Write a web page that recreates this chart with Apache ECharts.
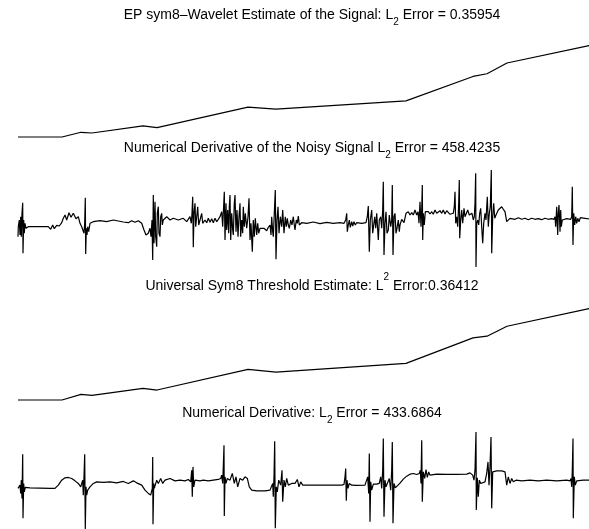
<!DOCTYPE html>
<html>
<head>
<meta charset="utf-8">
<script src="https://cdn.jsdelivr.net/npm/echarts@6/dist/echarts.min.js"></script>
<style>
  html, body { margin: 0; padding: 0; background: #fff; overflow: hidden; }
  #chart { width: 624px; height: 529px; }
</style>
</head>
<body>
<div id="chart"></div>
<script>
// sample positions (0..588) of the kinks in the two wavelet estimates
const estX = [0, 44, 63, 74, 125, 139, 230, 258, 388, 455, 469, 489, 571, 588]
const epEstimate = [0, 0, 0.47, 0.4, 1.1, 0.93, 2.97, 2.77, 3.6, 6.03, 6.3, 7.37, 9.1, 9.46]
const uniEstimate = [0, 0, 0.57, 0.47, 1.17, 1.0, 3.07, 2.8, 3.67, 6.23, 6.4, 7.4, 9.17, 9.53]

// numerical derivative of the noisy signal [position, value]
const noisyDeriv = [
  [0,-10.7],[0.3,-0.7],[1.3,6],[2,-9],[2.7,9.3],[3.3,-10.7],[4,12.7],[4.7,23.3],[5,-27.3],[5.7,6],[6.3,-7.3],[7,2.7],[8,-2.3],
  [10.3,-0.7],[30.3,-0.7],[32.7,-3.3],[34.7,1],[36.3,-2.7],[38.7,0.7],[41.3,0],[43.7,3.3],
  [45.3,7.7],[47,11],[48.7,6],[51,13.3],[53,8.7],[55.3,12.7],[58,7.3],[60.3,9.3],[62,2.7],[63.7,-0.7],
  [64.7,-2.3],[65.3,1],[66,-7.3],[66.7,2.7],[67.3,28.3],[67.7,-28],[68.3,-2.3],[69,-9],[69.7,-0.7],[70.7,-5.7],[72,2.7],
  [75.3,4.3],[82,5.3],[88.7,4.3],[95.3,6],[100.3,5],[105.3,4],[110.3,3.3],[113.7,5.3],[117,3.7],[120.3,5.3],[123.7,2.7],
  [126,-4],[128,-9],[130.3,-7.3],[132,-2.3],
  [133,-10.7],[134,6],[134.7,-34],[135.3,31],[136,-17.3],[137,24.3],[137.7,-10.7],[138.7,-20.7],[139.3,12.7],[140.3,19.3],[141,-7.3],[142,-10.7],[142.7,9.3],[143.7,12.7],[144.3,1],[145.3,6],
  [148.7,9.3],[152,6],[155.3,7.7],[160.3,6],[165.3,7.7],[168.7,4.3],[172,9.3],
  [173.3,2.7],[174,12.7],[174.7,29.3],[175.3,-21.3],[176,12.7],[177,22.7],[177.7,-0.7],[178.7,9.3],[179.7,19.3],[180.7,1],[182,6],
  [183.7,12.7],[184.7,2.7],[187,6],[188.7,3.3],[190.3,7.7],[192,3.7],[193.7,7.3],[195.3,3.3],[197,7.7],[198.7,4.3],[200.3,6.7],[202,9.3],
  [203.7,14.3],[204.7,-0.7],[205.3,12.7],[206.3,34.3],[207,-14],[208,22.7],[208.7,-4],[209.7,16],[210.7,-7.3],[211.3,19.3],[212,31],[212.7,-14],[213.7,12.7],[214.7,-4],[215.3,-9],[216.3,22.7],[217,31],[218,-5.7],[219,16],[220,-10.7],[221,9.3],[222,22.7],[222.7,-10.7],[223.7,6],[224.7,-7.3],[225.3,19.3],[226.3,-0.7],[227.3,12.7],[228.7,-2.3],[230,9.3],[231,27.7],[232,-14],[233,2.7],[234.3,-25.7],[235.3,6],[236.3,-10.7],[237.3,7.7],[238.7,-9],[239.7,2.7],[240.7,-7.3],[242,-2.3],
  [243.7,-4],[246,-2.3],[248.7,-4.7],[250.3,-1.3],
  [252,1],[253,-9],[253.7,9.3],[254.7,-5.7],[255.3,-10.7],[256.3,12.7],[257.3,36],[258,-33.3],[259,6],[260,19.3],[261,-7.3],[262.3,9.3],[263.7,-0.7],[264.7,16],[266,-7.3],[267.3,9.3],[268.3,-0.7],[269.3,7.7],[270.3,1],[271.3,-2.3],[272.7,6],[274,1],[275.3,9.3],[276.3,1],[277,-4],[278.3,6],[279.3,2.7],[280.3,10],[281.3,1],[282,-0.7],[283.7,3.3],
  [288.7,2.7],[295.3,4],[302,2.3],[308.7,3.7],[315.3,2.7],[322,3.3],[326,2.7],
  [327.7,6],[328.7,12.7],[329.3,-5.7],[330.3,1],[331.3,6],[332.3,-1.3],[333.7,4.3],[334.7,0],[336,4.3],[337.3,1],[338.7,3.3],
  [343.7,2.7],[348,3.3],
  [349.3,9.3],[350.3,20],[351.3,-25.7],[352.3,6],[353.7,16],[354.7,-7.3],[355.3,-9],[356.7,9.3],[357.7,-2.3],[358.7,12.7],[359.7,-4],[360.3,-14],[361.3,6],[362.7,9.3],[363.7,-2.3],[364.7,16],[365.3,44.3],[366,-29],[367,2.7],[368,14.3],[369,-7.3],[370.3,-4],[371.3,11],[372.7,-0.7],[373.7,6],[374.3,41],[375,-29],[376,9.3],[377,12.7],[378,-7.3],[379,-2.3],[380.3,6],[381.3,-5.7],
  [382,1],[383.7,6.7],[386,3.3],[388,12.7],[390.3,14.3],[392,11],[393.7,13.3],[395.3,11],[397,16],[398.7,11],
  [400,14.3],[401,2.7],[402,24.3],[403,-0.7],[403.7,16],[404.3,41],[404.7,-14],[405.3,12.7],[406.3,1],[407.3,14.3],
  [410.3,14.3],[412,12],[413.7,14.3],[415.3,11.7],[417,16],[418.7,12.7],[420.3,11],[422,15.3],[423.7,12.7],[425.3,16],[427,12],[428.7,15.3],[430.3,16],[432,11.7],[433.7,11],
  [435.3,12.7],[436.3,19.3],[437,34.3],[437.7,2.7],[438.7,9.3],[439.7,-0.7],[440.7,22.7],[441.3,46],[441.7,-12.3],[442.7,6],[443.7,16],[444.7,2.7],[446,17.7],[447,9.3],[448,7.7],[449.7,16],[451.3,11],[452.7,9.3],[454,12.7],[455.3,6],
  [456.3,9.3],[457,22.7],[457.7,52.7],[458,-41],[458.7,2.7],[459.7,6],[460.7,1],[461.7,12.7],[462.7,17.7],[463.7,-0.7],[464.7,-17.3],[465.7,2.7],[467,12.7],[468,6],[469.3,29.3],[470.3,-0.7],[471.3,12.7],[472.3,19.3],[473.3,56],[473.7,-27.3],[474.7,9.3],[475.7,22.7],[476.7,7.7],[478,11],
  [480.3,16],[482,14.3],[483.7,19.3],[485.3,16.7],[487,14.3],[488.7,4.3],[490.3,2.7],[492,7.7],[493.7,8.7],
  [497,6.7],[500.3,8.3],[503.7,6.7],[507,7.7],[510.3,6.3],[513.7,7.7],[517,6.7],[520.3,7.3],[523.7,6.3],[527,7.7],[530.3,6.7],[533.7,7.3],[536,6.7],
  [537,9.3],[537.7,-0.7],[538.7,19.3],[539.7,-9],[540.3,12.7],[541,21],[542,-5.7],[542.7,16],[543.3,-0.7],[544.3,6],[545.3,6.7],
  [548.7,7.3],[552.7,6.7],
  [553.7,9.3],[554.3,39.3],[555,-19],[555.7,12.7],[556.7,1],[557.7,9.3],[558.7,2.7],[559.7,7.7],[561,4.3],[562.3,8.3],[564,6.7],[567,7.7],[571.7,7],[580,7.3],[588,7]
]

// numerical derivative of the estimate [position, value]
const estDeriv = [
  [0,-0.3],[2,3],[2.7,-5.3],[3.3,8],[4,-10.3],[4.7,34],[5,-30.3],[5.7,4.7],[6.3,-3.7],[7.3,0.7],
  [12,0.3],[22,0],[32,-0.3],[37,-0.3],
  [40.3,3],[43.7,8],[47,10.3],[50.3,10.7],[53.7,9.7],[57,7.3],[60.3,4.7],[62.7,1.3],
  [64,-0.3],[64.7,8],[65.3,-7],[66,11.3],[66.7,34],[67.3,-41],[68,1.3],[68.7,-7],[69.7,-2],
  [72,1.3],[75.3,4.7],[78.7,6.3],[85.3,5.7],[92,6.3],[98.7,5.3],[105.3,6.7],[110.3,4.7],[115.3,7.3],[118.7,5.3],[123.7,3],[127,-2],[130.3,-5.3],[132.7,-7],
  [133.7,-8.7],[134.3,-0.3],[134.7,31.3],[135,-36.3],[135.7,4.7],[136.3,-0.3],
  [138.7,8],[140.3,4.7],[142.7,9.7],[144.7,4.7],[147,8],[148.7,6.3],[152,9.7],[157,7.3],[162,8],[167,7.3],[170.3,8.7],
  [172.7,6.3],[173.7,18],[174.3,-8.7],[175,21.3],[175.7,1.3],[177,8],[178.7,6.3],[182,7.3],
  [185.3,8],[190.3,7.3],[195.3,8],[200.3,8.7],[202.7,9.7],
  [203.7,13],[204.7,4.7],[205.3,21.3],[206,43],[206.3,-28],[207,11.3],[208,4.7],[209.3,9.7],
  [212,8],[214.3,14.7],[216.3,4.7],[218,11.3],[219.7,1.3],[222,9.7],[224.7,8],[227,11.3],[229.3,9.7],[231.3,1.3],[233.7,-2],
  [238.7,-2.7],[247,-2.7],[252,-2],
  [253.7,-1.3],[254.7,4.7],[255.3,-8.7],[256,11.3],[256.7,47],[257.3,-40.3],[258.3,1.3],[259.3,-3.7],[260.7,8],
  [262.7,3],[264,18],[264.7,-13.7],[266,8],[267.3,1.3],[268.7,9.7],[270.3,3],
  [273.7,4.7],[277,4.7],[279.3,8.7],[281,1.3],[282.7,6.3],[284.7,3],[288.7,3],
  [298.7,3],[315.3,3],[323.7,3],[326,3.7],
  [327,11.3],[327.7,19.7],[328.3,-12.7],[329,8],[330,-0.3],[331.3,4.7],[333.7,3],
  [338.7,2.7],[347,3],[348.7,3.7],
  [349.7,11.3],[350.7,-5.3],[351.3,34.7],[352,-33.7],[352.7,6.3],[353.7,-2],[355.3,4],
  [358.7,4],[361.3,4.7],
  [362.7,11.3],[363.7,-0.3],[364.7,18],[365.3,49.7],[366,-28.7],[367,8],[368,1.3],[369.3,4.7],
  [371.3,9.7],[372.7,-2],[373.7,18],[374.3,46.3],[375,-35.3],[376,4.7],[377.3,0.3],[378.7,2],
  [382,5],[385.3,9],[388.7,12],[392,14],[395.3,14.7],[398.7,13.7],[401.3,14.7],
  [402.3,18],[403,4.7],[403.7,48],[404.3,-13.7],[405.3,16.3],[406.7,9.7],[408,18.7],[409.3,10.7],[410.7,16.3],[412,13],
  [418.7,14],[428.7,13.7],[438.7,13.7],[448.7,14],[452,15.3],[454.7,13],
  [456,8],[457,18],[458,56.3],[458.3,-22],[459.3,10.3],[460.3,-8.7],[461.3,8],[462.7,4.7],[464.7,6.3],[467,6.3],
  [468.7,14.7],[470,26.3],[471,3],[472,21.3],[473,51.3],[473.7,-20.3],[474.7,16.3],[476,14.7],
  [478.7,17.3],[483.7,17.3],[487,16.3],[488.7,3],[490.3,11.3],[492,4.7],[493.7,9.7],[495.3,6.3],[498,8],
  [503.7,7.3],[512,8],[520.3,7.3],[528.7,8],[538.7,7.3],[548.7,8],[552,7.3],
  [553,9.7],[553.7,1.3],[554.3,18],[555,49.7],[555.3,-30.3],[556.3,11.3],[557.3,3],[558.7,7.3],[565.3,8],[571.7,8],[588,8]
]

const titles = [
  '{a|EP sym8–Wavelet Estimate of the Signal: L}{s|2}{a| Error = 0.35954}',
  '{a|Numerical Derivative of the Noisy Signal L}{s|2}{a| Error = 458.4235}',
  '{a|Universal Sym8 Threshold Estimate: L}{p|2}{a| Error:0.36412}',
  '{a|Numerical Derivative: L}{s|2}{a| Error = 433.6864}'
]

const chart = echarts.init(document.getElementById('chart'))

const font = '"Liberation Sans", Arial, Helvetica, sans-serif'
const rich = {
  a: { fontSize: 14, fontFamily: font, fontWeight: 'normal', color: '#000' },
  s: { fontSize: 10, fontFamily: font, fontWeight: 'normal', color: '#000', padding: [14, 0, 0, 0] },
  p: { fontSize: 10, fontFamily: font, fontWeight: 'normal', color: '#000', padding: [0, 0, 18, 0] }
}
const titleTops = [3, 136, 272, 401]
const grids = [
  { top: 42, height: 95 },
  { top: 170, height: 97 },
  { top: 305, height: 95 },
  { top: 432, height: 97 }
]

const zip = (xs, ys) => xs.map((x, i) => [x, ys[i]])
const seriesData = [zip(estX, epEstimate), noisyDeriv, zip(estX, uniEstimate), estDeriv]

const option = {
  animation: false,
  backgroundColor: '#fff',
  title: titles.map((t, i) => ({
    text: t,
    left: 'center',
    top: titleTops[i],
    padding: 0,
    textStyle: { fontWeight: 'normal', rich: rich }
  })),
  grid: grids.map(g => ({ left: 18, right: 18, top: g.top, height: g.height })),
  xAxis: grids.map((g, i) => ({ type: 'value', gridIndex: i, min: 0, max: 588, show: false })),
  yAxis: grids.map((g, i) => ({ type: 'value', gridIndex: i, min: 'dataMin', max: 'dataMax', show: false })),
  series: seriesData.map((d, i) => ({
    type: 'line',
    xAxisIndex: i,
    yAxisIndex: i,
    data: d,
    showSymbol: false,
    clip: false,
    lineStyle: { color: '#000', width: 1.2 }
  }))
}

chart.setOption(option)
</script>
</body>
</html>
